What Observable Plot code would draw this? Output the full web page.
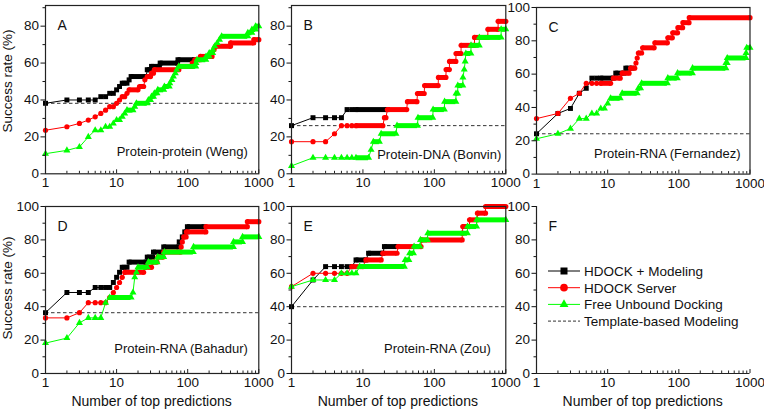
<!DOCTYPE html>
<html><head><meta charset="utf-8">
<script src="https://cdn.jsdelivr.net/npm/d3@7"></script>
<script src="https://cdn.jsdelivr.net/npm/@observablehq/plot@0.6"></script>
<style>
body{margin:0;background:#fff;font-family:"Liberation Sans",Arial,sans-serif;}
#wrap{position:relative;width:764px;height:413px;overflow:hidden;background:#fff;}
.ttl{position:absolute;color:#111;white-space:nowrap;text-align:center;font-family:"Liberation Sans",Arial,sans-serif;}
</style></head><body><div id="wrap"></div>
<script>
// ---------- data (N = number of top predictions, value = success rate %) ----------
const xTickLabels = [1, 10, 100, 1000];
const xMinorTicks = [2,3,4,5,6,7,8,9,20,30,40,50,60,70,80,90,200,300,400,500,600,700,800,900];
const yTicksAB = [0, 20, 40, 60, 80];
const yMinorAB = [10, 30, 50, 70, 90];
const yTicksC = [0, 20, 40, 60, 80, 100];
const yMinorC = [10, 30, 50, 70, 90];

const seriesNames = ["HDOCK + Modeling", "HDOCK Server", "Free Unbound Docking", "Template-based Modeling"];
const panelLetters = ["A", "B", "C", "D", "E", "F"];
const panelLabels = ["Protein-protein (Weng)", "Protein-DNA (Bonvin)", "Protein-RNA (Fernandez)", "Protein-RNA (Bahadur)", "Protein-RNA (Zou)"];

// A: Protein-protein (Weng)
const wengModel = [[1,38.2],[2,40],[3,40],[4,40],[5,40],[6,41.8],[7,41.8],[8,43.6],[9,43.6],[10,45.5],[11,47.3],[12,49.1],[14,49.1],[15,50.9],[16,52.7],[26,52.7],[27,56.4],[30,56.4],[31,58.2],[40,58.2],[41,60.0],[72,60.0],[73,61.8],[125,61.8]];
const wengServer = [[1,23.6],[2,25.5],[3,27.3],[4,29.1],[5,30.9],[6,32.7],[7,34.5],[8,36.4],[9,36.4],[10,38.2],[11,40.0],[12,41.8],[13,41.8],[14,43.6],[15,45.5],[20,45.5],[21,47.3],[24,47.3],[25,50.9],[27,52.7],[30,52.7],[31,54.5],[33,54.5],[34,56.4],[75,56.4],[76,58.2],[115,58.2],[116,60.0],[125,60.0],[126,61.8],[150,61.8],[151,63.6],[220,63.6],[221,65.5],[235,67.3],[245,69.1],[400,69.1],[401,70.9],[850,70.9],[851,72.7],[1000,72.7]];
const wengFree = [[1,10.9],[2,12.7],[3,14.5],[4,20.0],[5,23.6],[6,23.6],[7,25.5],[8,25.5],[9,27.3],[10,29.1],[11,29.1],[12,30.9],[13,32.7],[14,34.5],[17,34.5],[18,36.4],[19,38.2],[27,38.2],[28,40.0],[30,40.0],[31,41.8],[33,41.8],[34,43.6],[37,43.6],[38,45.5],[46,45.5],[47,47.3],[55,47.3],[56,49.1],[60,50.9],[63,52.7],[67,54.5],[70,56.4],[75,58.2],[130,58.2],[131,60.0],[135,61.8],[180,61.8],[181,63.6],[200,63.6],[201,65.5],[225,65.5],[226,67.3],[240,69.1],[260,70.9],[280,72.7],[300,74.5],[700,74.5],[701,76.4],[800,76.4],[801,78.2],[900,78.2],[901,80.0],[1000,80.0]];
const wengTemplate = 38.2;

// B: Protein-DNA (Bonvin)
const bonvinModel = [[1,26.1],[2,30.4],[3,30.4],[4,30.4],[5,30.4],[6,34.8],[7,34.8],[8,34.8],[22,34.8]];
const bonvinServer = [[1,17.4],[2,17.4],[3,17.4],[4,21.7],[5,26.1],[6,26.1],[7,26.1],[8,26.1],[19,26.1],[20,30.4],[21,30.4],[22,34.8],[41,34.8],[42,39.1],[57,39.1],[58,43.5],[72,43.5],[73,47.8],[113,47.8],[114,52.2],[145,52.2],[146,56.5],[162,56.5],[163,60.9],[200,60.9],[201,65.2],[236,65.2],[237,69.6],[364,69.6],[365,73.9],[560,73.9],[561,78.3],[780,78.3],[781,82.6],[1000,82.6]];
const bonvinFree = [[1,4.3],[2,8.7],[3,8.7],[4,8.7],[5,8.7],[6,8.7],[7,8.7],[8,8.7],[12,8.7],[13,13.0],[14,17.4],[17,17.4],[18,21.7],[29,21.7],[30,26.1],[58,26.1],[59,30.4],[95,30.4],[96,34.8],[138,34.8],[139,39.1],[200,39.1],[201,43.5],[212,43.5],[213,47.8],[250,47.8],[251,52.2],[262,56.5],[270,60.9],[276,65.2],[325,65.2],[326,69.6],[425,69.6],[426,73.9],[860,73.9],[861,78.3],[1000,78.3]];
const bonvinTemplate = 26.1;

// C: Protein-RNA (Fernandez)
const fernandezModel = [[1,24.2],[2,36.4],[3,39.4],[4,48.5],[5,51.5],[6,57.6],[7,57.6],[8,57.6],[12,57.6],[13,60.6],[17,60.6],[18,63.6],[22,63.6]];
const fernandezServer = [[1,33.3],[2,36.4],[3,45.5],[4,48.5],[5,54.5],[6,54.5],[7,54.5],[8,54.5],[11,54.5],[12,57.6],[15,57.6],[16,60.6],[20,60.6],[21,63.6],[24,63.6],[25,66.7],[26,69.7],[27,72.7],[30,72.7],[31,75.8],[45,75.8],[46,78.8],[69,78.8],[70,81.8],[81,81.8],[82,84.8],[96,84.8],[97,87.9],[113,87.9],[114,90.9],[139,90.9],[140,93.9],[1000,93.9]];
const fernandezFree = [[1,21.2],[2,24.2],[3,27.3],[4,33.3],[5,33.3],[6,36.4],[7,36.4],[8,39.4],[9,39.4],[10,42.4],[11,45.5],[15,45.5],[16,48.5],[26,48.5],[27,51.5],[29,51.5],[30,54.5],[69,54.5],[70,57.6],[95,57.6],[96,60.6],[155,60.6],[156,63.6],[458,63.6],[459,66.7],[478,66.7],[479,69.7],[880,69.7],[881,72.7],[900,75.8],[1000,75.8]];
const fernandezTemplate = 24.2;

// D: Protein-RNA (Bahadur)
const bahadurModel = [[1,36.4],[2,48.5],[3,48.5],[4,48.5],[5,51.5],[6,51.5],[7,51.5],[8,51.5],[9,54.5],[10,57.6],[11,60.6],[12,63.6],[14,63.6],[15,66.7],[26,66.7],[27,69.7],[32,69.7],[33,72.7],[45,72.7],[46,75.8],[75,75.8],[76,78.8],[84,81.8],[91,84.8],[98,84.8],[99,87.9],[170,87.9]];
const bahadurServer = [[1,33.3],[2,33.3],[3,36.4],[4,42.4],[5,42.4],[6,42.4],[7,42.4],[8,45.5],[9,48.5],[10,51.5],[11,54.5],[12,57.6],[13,60.6],[24,60.6],[25,63.6],[31,63.6],[32,66.7],[37,66.7],[38,69.7],[45,69.7],[46,72.7],[80,72.7],[81,75.8],[84,78.8],[88,81.8],[95,81.8],[96,84.8],[180,84.8],[181,87.9],[690,87.9],[691,90.9],[1000,90.9]];
const bahadurFree = [[1,18.2],[2,21.2],[3,30.3],[4,33.3],[5,33.3],[6,33.3],[7,42.4],[8,45.5],[16,45.5],[17,48.5],[18,57.6],[19,60.6],[20,63.6],[27,63.6],[28,66.7],[37,66.7],[38,69.7],[46,69.7],[47,72.7],[120,72.7],[121,75.8],[440,75.8],[441,78.8],[590,78.8],[591,81.8],[1000,81.8]];
const bahadurTemplate = 36.4;

// E: Protein-RNA (Zou)
const zouModel = [[1,40],[2,56],[3,64],[4,64],[5,64],[6,64],[7,64],[8,68],[11,68],[12,72],[19,72],[20,76],[30,76]];
const zouServer = [[1,52],[2,60],[3,60],[4,60],[5,60],[6,60],[7,64],[10,64],[11,68],[18,68],[19,72],[30,72],[31,76],[65,76],[66,80],[245,80],[246,84],[250,88],[310,88],[311,92],[400,92],[401,96],[520,96],[521,100],[1000,100]];
const zouFree = [[1,52],[2,56],[3,56],[4,56],[5,60],[6,60],[7,60],[8,60],[9,64],[38,64],[39,68],[44,68],[45,72],[51,72],[52,76],[63,76],[64,80],[80,80],[81,84],[290,84],[291,88],[390,88],[391,92],[1000,92]];
const zouTemplate = 40;

// ---------- styles ----------
const FONT = '"Liberation Sans", Arial, sans-serif';
const styles = [
  {color: "#000000", symbol: "square", r: 2.8, band: 5},
  {color: "#ff0000", symbol: "circle", r: 2.6, band: 5},
  {color: "#00ff00", symbol: "triangle", r: 2.6, band: 5}
];

const wrap = document.getElementById("wrap");

function panel(cfg) {
  const mL = 48, mT = 6, mR = 14, mB = 28;
  const width = cfg.fx1 - cfg.fx0 + mL + mR;
  const height = cfg.fy1 - cfg.fy0 + mT + mB;
  const ppu = (cfg.fy1 - cfg.fy0) / cfg.yMax;
  const marks = [];
  if (cfg.template != null) {
    marks.push(Plot.ruleY([cfg.template], {stroke: "#333", strokeWidth: 1, strokeDasharray: "3.5,2.5"}));
  }
  (cfg.series || []).forEach((pts, k) => {
    const st = styles[k];
    const segs = [];
    for (let i = 0; i < pts.length - 1; i++) {
      const a = pts[i], b = pts[i + 1];
      if (a[1] === b[1] && b[0] - a[0] > 1) segs.push({x1: a[0], x2: b[0], y: a[1]});
    }
    marks.push(Plot.line(pts, {x: d => d[0], y: d => d[1], stroke: st.color, strokeWidth: 1}));
    marks.push(Plot.ruleY(segs, {y: "y", x1: "x1", x2: "x2", stroke: st.color, strokeWidth: st.band}));
    marks.push(Plot.dot(pts, {x: d => d[0], y: d => d[1], symbol: () => st.symbol, r: st.r, fill: st.color, stroke: "none"}));
  });
  // axes
  marks.push(Plot.axisY({ticks: cfg.yTicks, tickSize: 4.5, tickPadding: 2, tickFormat: d => String(d), label: null, fontSize: 13.5}));
  marks.push(Plot.axisY({ticks: cfg.yMinor, tickSize: 2.5, tickFormat: () => "", label: null}));
  marks.push(Plot.axisX({ticks: xTickLabels, tickSize: 0, tickPadding: 4, tickFormat: d => String(d), label: null, fontSize: 13.5}));
  marks.push(Plot.ruleX(xTickLabels, {y1: 0, y2: 4 / ppu, stroke: "#222", strokeWidth: 1}));
  marks.push(Plot.ruleX(xMinorTicks, {y1: 0, y2: 2.5 / ppu, stroke: "#222", strokeWidth: 1}));
  if (cfg.frame) {
    marks.push(Plot.frame({stroke: "#222", strokeWidth: 1.2}));
  } else {
    marks.push(Plot.ruleX([1], {stroke: "#222", strokeWidth: 1.2}));
    marks.push(Plot.ruleY([0], {stroke: "#222", strokeWidth: 1.2}));
  }
  marks.push(Plot.text([cfg.letter], {frameAnchor: "top-left", text: d => d, dx: 12, dy: 15, fontSize: 14, textAnchor: "start", fill: "#111"}));
  if (cfg.label) {
    marks.push(Plot.text([cfg.label], {frameAnchor: "bottom-right", text: d => d, dx: cfg.annDx, dy: -(cfg.annUp + 4.2), fontSize: 13, textAnchor: "end", fill: "#111"}));
  }
  const svg = Plot.plot({
    width, height,
    marginLeft: mL, marginTop: mT, marginRight: mR, marginBottom: mB,
    x: {type: "log", domain: [1, 1000]},
    y: {domain: [0, cfg.yMax]},
    style: {fontFamily: FONT, fontSize: "13.5px", color: "#111", background: "transparent", overflow: "visible"},
    marks
  });
  svg.style.position = "absolute";
  svg.style.left = (cfg.fx0 - mL) + "px";
  svg.style.top = (cfg.fy0 - mT) + "px";
  svg.style.maxWidth = "none";
  wrap.appendChild(svg);
}

const YMAX_AB = 91.2;
panel({fx0: 45, fx1: 258.3, fy0: 5, fy1: 173.3, yMax: YMAX_AB, yTicks: yTicksAB, yMinor: yMinorAB, letter: panelLetters[0], label: panelLabels[0], annDx: -11, annUp: 13.3, series: [wengModel, wengServer, wengFree], template: wengTemplate, frame: true});
panel({fx0: 290.7, fx1: 505, fy0: 5, fy1: 173.3, yMax: YMAX_AB, yTicks: yTicksAB, yMinor: yMinorAB, letter: panelLetters[1], label: panelLabels[1], annDx: -4.5, annUp: 10.6, series: [bonvinModel, bonvinServer, bonvinFree], template: bonvinTemplate, frame: true});
panel({fx0: 536, fx1: 749.5, fy0: 6.7, fy1: 173.3, yMax: 100, yTicks: yTicksC, yMinor: yMinorC, letter: panelLetters[2], label: panelLabels[2], annDx: -9.5, annUp: 11.6, series: [fernandezModel, fernandezServer, fernandezFree], template: fernandezTemplate, frame: true});
panel({fx0: 45, fx1: 258.3, fy0: 205.7, fy1: 372.7, yMax: 100, yTicks: yTicksC, yMinor: yMinorC, letter: panelLetters[3], label: panelLabels[3], annDx: -11, annUp: 16, series: [bahadurModel, bahadurServer, bahadurFree], template: bahadurTemplate, frame: true});
panel({fx0: 290.7, fx1: 505, fy0: 205.7, fy1: 372.7, yMax: 100, yTicks: yTicksC, yMinor: yMinorC, letter: panelLetters[4], label: panelLabels[4], annDx: -15, annUp: 16, series: [zouModel, zouServer, zouFree], template: zouTemplate, frame: true});
panel({fx0: 536, fx1: 749.5, fy0: 205.7, fy1: 372.7, yMax: 100, yTicks: yTicksC, yMinor: yMinorC, letter: panelLetters[5], label: null, series: [], template: null, frame: false});

// ---------- axis titles ----------
function title(text, cx, cy, rotate, size) {
  const d = document.createElement("div");
  d.className = "ttl";
  d.textContent = text;
  d.style.fontSize = size + "px";
  d.style.width = "220px";
  d.style.height = "18px";
  d.style.lineHeight = "18px";
  d.style.left = (cx - 110) + "px";
  d.style.top = (cy - 9) + "px";
  if (rotate) d.style.transform = "rotate(-90deg)";
  wrap.appendChild(d);
}
title("Success rate (%)", 8, 81, true, 13.5);
title("Success rate (%)", 8, 288, true, 13.5);
title("Number of top predictions", 151.6, 401, false, 14);
title("Number of top predictions", 397.8, 401, false, 14);
title("Number of top predictions", 642.7, 401, false, 14);

// ---------- legend (panel F) ----------
const leg = d3.create("svg").attr("width", 220).attr("height", 75)
  .style("position", "absolute").style("left", "540px").style("top", "260px").style("overflow", "visible");
const legRows = [
  {name: seriesNames[0], color: "#000", sym: d3.symbolSquare, size: 49},
  {name: seriesNames[1], color: "#ff0000", sym: d3.symbolCircle, size: 46},
  {name: seriesNames[2], color: "#00ff00", sym: d3.symbolTriangle, size: 34},
  {name: seriesNames[3], color: "#333", sym: null, dash: "3,2"}
];
legRows.forEach((r, i) => {
  const y = 11 + i * 16.7;
  leg.append("line").attr("x1", 8).attr("x2", 40).attr("y1", y).attr("y2", y)
    .attr("stroke", r.color).attr("stroke-width", 1).attr("stroke-dasharray", r.dash || null);
  if (r.sym) leg.append("path").attr("d", d3.symbol(r.sym, r.size)()).attr("transform", `translate(24,${y})`).attr("fill", r.color);
  leg.append("text").attr("x", 44).attr("y", y + 4.8).attr("font-size", 13.5).attr("font-family", FONT).attr("fill", "#111").text(r.name);
});
wrap.appendChild(leg.node());
</script>
</body></html>
